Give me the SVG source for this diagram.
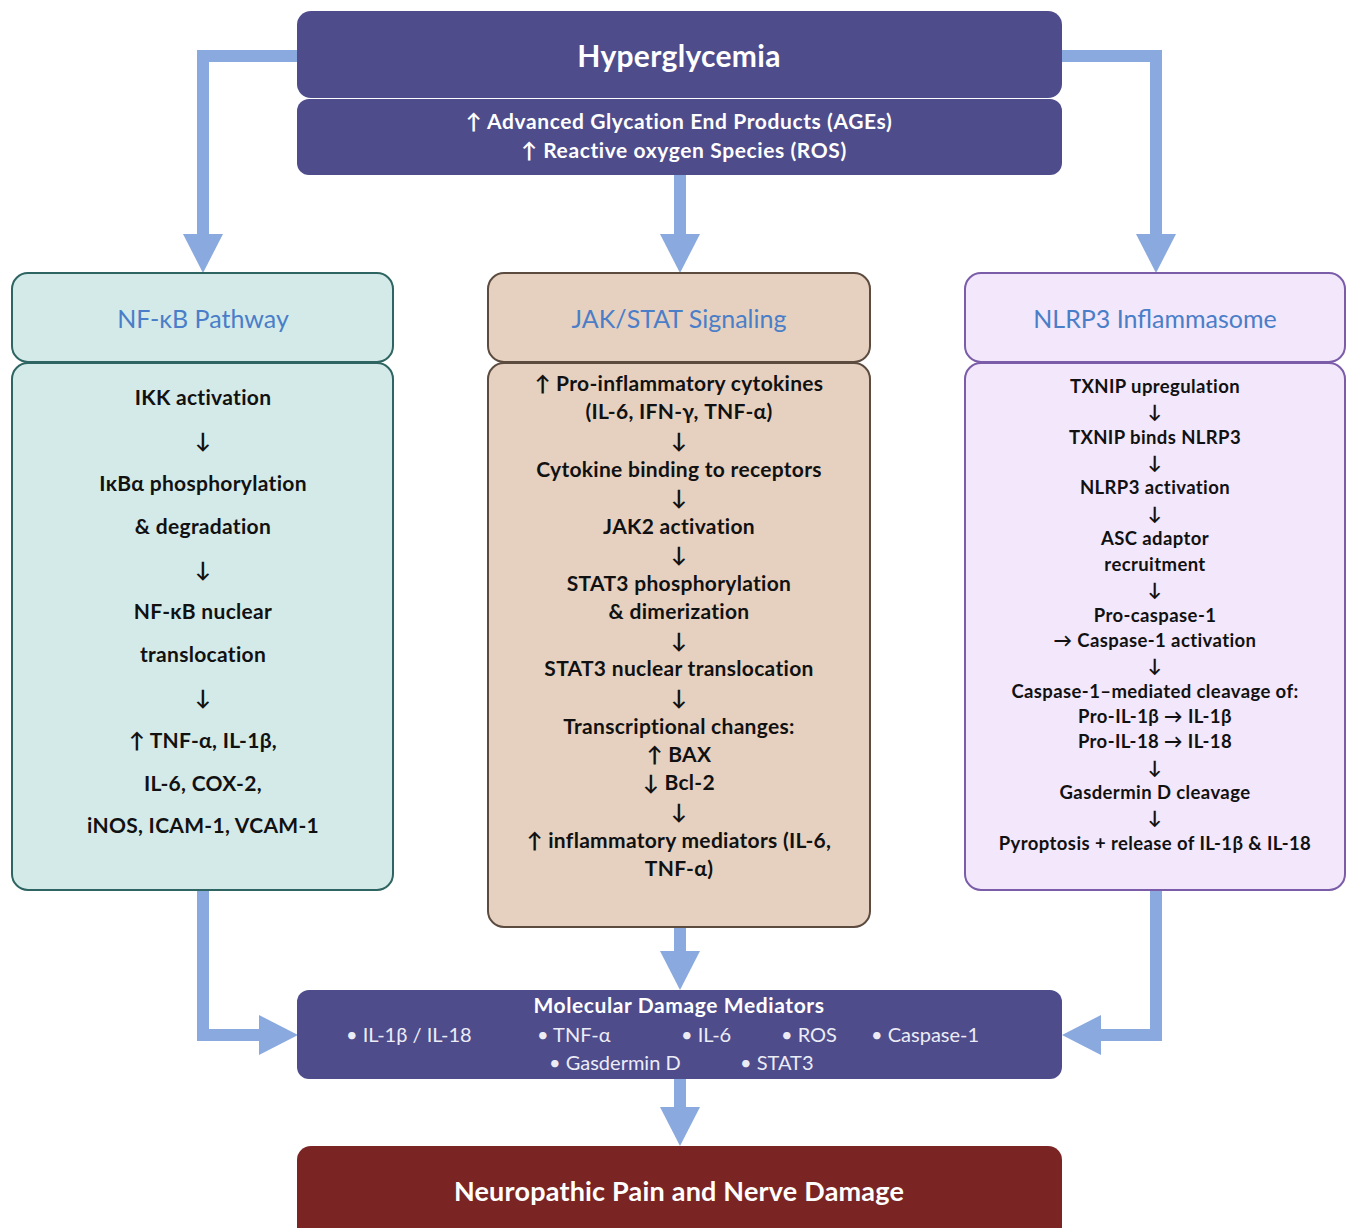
<svg xmlns="http://www.w3.org/2000/svg" width="1346" height="1228" viewBox="0 0 1346 1228">
<defs>
<marker id="ah" viewBox="0 0 40 40" refX="0" refY="20" markerWidth="40" markerHeight="40" markerUnits="userSpaceOnUse" orient="auto">
<path d="M0,0 L39,20 L0,40 z" fill="#8AA9DF"/>
</marker>
<style>
.conn{fill:none;stroke:#8AA9DF;stroke-width:12;marker-end:url(#ah)}
.dark{fill:#4E4C8B}
.t{font-family:Lato,"Open Sans","Liberation Sans",sans-serif;text-anchor:middle}
.w{fill:#FFFFFF;font-weight:bold}
.hd{fill:#4A7EC8;font-size:25px}
.b{fill:#111111;font-weight:bold;font-size:21px;letter-spacing:0.3px}
.bs{fill:#111111;font-weight:bold;font-size:18.5px;letter-spacing:0.4px}
.m{fill:#ECECF6;font-size:20px;text-anchor:start}
</style>
</defs>
<rect width="1346" height="1228" fill="#FFFFFF"/>

<g id="connectors">
<path class="conn" d="M297,56 H203 V234"/>
<path class="conn" d="M680,175 V234"/>
<path class="conn" d="M1062,56 H1156 V234"/>
<path class="conn" d="M203,890 V1035 H259"/>
<path class="conn" d="M680,927 V951"/>
<path class="conn" d="M1156,890 V1035 H1101"/>
<path class="conn" d="M680,1079 V1107"/>
</g>

<g id="hyperglycemia">
<rect class="dark" x="297" y="11" width="765" height="87" rx="14"/>
<text class="t w" x="679" y="67" font-size="30" letter-spacing="0.3">Hyperglycemia</text>
</g>
<g id="ages-ros">
<rect class="dark" x="297" y="99" width="765" height="76" rx="12"/>
<text class="t w" x="679" y="129" font-size="21" letter-spacing="0.6">↑ Advanced Glycation End Products (AGEs)</text>
<text class="t w" x="684" y="158" font-size="21" letter-spacing="0.6">↑  Reactive oxygen Species (ROS)</text>
</g>

<g id="nfkb">
<rect x="12" y="273" width="381" height="89" rx="16" fill="#D4EAE9" stroke="#2E6461" stroke-width="2"/>
<rect x="12" y="363" width="381" height="527" rx="16" fill="#D4EAE9" stroke="#2E6461" stroke-width="2"/>
<text class="t hd" x="203" y="328">NF-κB Pathway</text>
<text class="t b" x="203" y="405">IKK activation</text>
<text class="t b" x="203" y="448">↓</text>
<text class="t b" x="203" y="491">IκBα phosphorylation</text>
<text class="t b" x="203" y="534">&amp; degradation</text>
<text class="t b" x="203" y="577">↓</text>
<text class="t b" x="203" y="619">NF-κB nuclear</text>
<text class="t b" x="203" y="662">translocation</text>
<text class="t b" x="203" y="705">↓</text>
<text class="t b" x="203" y="748">↑ TNF-α, IL-1β,</text>
<text class="t b" x="203" y="791">IL-6, COX-2,</text>
<text class="t b" x="203" y="833">iNOS, ICAM-1, VCAM-1</text>
</g>

<g id="jakstat">
<rect x="488" y="273" width="382" height="89" rx="16" fill="#E6D1C1" stroke="#5C4B3F" stroke-width="2"/>
<rect x="488" y="363" width="382" height="564" rx="16" fill="#E6D1C1" stroke="#5C4B3F" stroke-width="2"/>
<text class="t hd" x="679" y="328">JAK/STAT Signaling</text>
<text class="t b" x="679" y="391">↑ Pro-inflammatory cytokines</text>
<text class="t b" x="679" y="419">(IL-6, IFN-γ, TNF-α)</text>
<text class="t b" x="679" y="448">↓</text>
<text class="t b" x="679" y="477">Cytokine binding to receptors</text>
<text class="t b" x="679" y="505">↓</text>
<text class="t b" x="679" y="534">JAK2 activation</text>
<text class="t b" x="679" y="562">↓</text>
<text class="t b" x="679" y="591">STAT3 phosphorylation</text>
<text class="t b" x="679" y="619">&amp; dimerization</text>
<text class="t b" x="679" y="648">↓</text>
<text class="t b" x="679" y="676">STAT3 nuclear translocation</text>
<text class="t b" x="679" y="705">↓</text>
<text class="t b" x="679" y="734">Transcriptional changes:</text>
<text class="t b" x="679" y="762">↑ BAX</text>
<text class="t b" x="679" y="790">↓ Bcl-2</text>
<text class="t b" x="679" y="819">↓</text>
<text class="t b" x="679" y="848">↑ inflammatory mediators (IL-6,</text>
<text class="t b" x="679" y="876">TNF-α)</text>
</g>

<g id="nlrp3">
<rect x="965" y="273" width="380" height="89" rx="16" fill="#F2E7FB" stroke="#7A5CA8" stroke-width="2"/>
<rect x="965" y="363" width="380" height="527" rx="16" fill="#F2E7FB" stroke="#7A5CA8" stroke-width="2"/>
<text class="t hd" x="1155" y="328" font-size="26">NLRP3 Inflammasome</text>
<text class="t bs" x="1155" y="393">TXNIP upregulation</text>
<text class="t bs" x="1155" y="418">↓</text>
<text class="t bs" x="1155" y="444">TXNIP binds NLRP3</text>
<text class="t bs" x="1155" y="469">↓</text>
<text class="t bs" x="1155" y="494">NLRP3 activation</text>
<text class="t bs" x="1155" y="520">↓</text>
<text class="t bs" x="1155" y="545">ASC adaptor</text>
<text class="t bs" x="1155" y="571">recruitment</text>
<text class="t bs" x="1155" y="596">↓</text>
<text class="t bs" x="1155" y="622">Pro-caspase-1</text>
<text class="t bs" x="1155" y="647">→ Caspase-1 activation</text>
<text class="t bs" x="1155" y="672">↓</text>
<text class="t bs" x="1155" y="698">Caspase-1–mediated cleavage of:</text>
<text class="t bs" x="1155" y="723">Pro-IL-1β → IL-1β</text>
<text class="t bs" x="1155" y="748">Pro-IL-18 → IL-18</text>
<text class="t bs" x="1155" y="774">↓</text>
<text class="t bs" x="1155" y="799">Gasdermin D cleavage</text>
<text class="t bs" x="1155" y="824">↓</text>
<text class="t bs" x="1155" y="850">Pyroptosis + release of IL-1β &amp; IL-18</text>
</g>

<g id="mediators">
<rect class="dark" x="297" y="990" width="765" height="89" rx="12"/>
<text class="t w" x="679" y="1013" font-size="21" letter-spacing="0.6">Molecular Damage Mediators</text>
<text class="t m" x="346" y="1042">• IL-1β / IL-18</text>
<text class="t m" x="537" y="1042">• TNF-α</text>
<text class="t m" x="681" y="1042">• IL-6</text>
<text class="t m" x="781" y="1042">• ROS</text>
<text class="t m" x="871" y="1042">• Caspase-1</text>
<text class="t m" x="549" y="1070">• Gasdermin D</text>
<text class="t m" x="740" y="1070">• STAT3</text>
</g>

<g id="outcome">
<rect x="297" y="1146" width="765" height="110" rx="14" fill="#7A2424"/>
<text class="t w" x="679" y="1201" font-size="27" letter-spacing="0.2">Neuropathic Pain and Nerve Damage</text>
</g>
</svg>
